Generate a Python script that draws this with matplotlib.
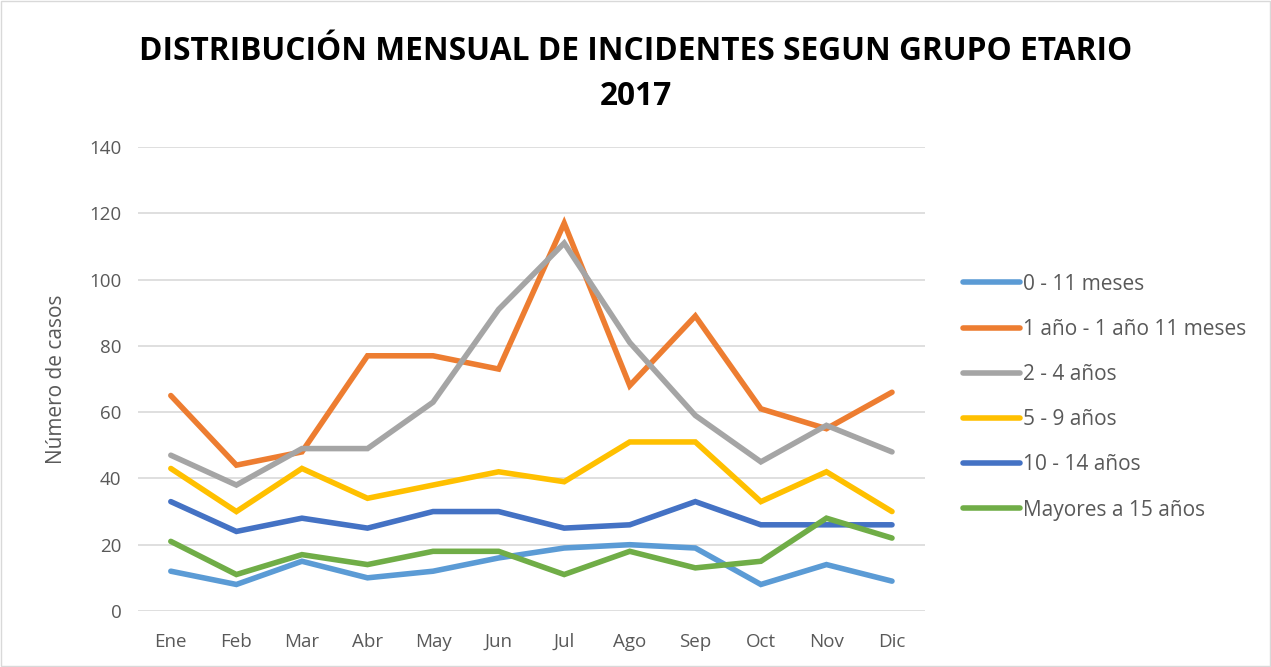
import matplotlib.pyplot as plt

meses = ["Ene", "Feb", "Mar", "Abr", "May", "Jun", "Jul", "Ago", "Sep", "Oct", "Nov", "Dic"]

g_0_11m = [12, 8, 15, 10, 12, 16, 19, 20, 19, 8, 14, 9]
g_1a = [65, 44, 48, 77, 77, 73, 117, 68, 89, 61, 55, 66]
g_2_4 = [47, 38, 49, 49, 63, 91, 111, 81, 59, 45, 56, 48]
g_5_9 = [43, 30, 43, 34, 38, 42, 39, 51, 51, 33, 42, 30]
g_10_14 = [33, 24, 28, 25, 30, 30, 25, 26, 33, 26, 26, 26]
g_15 = [21, 11, 17, 14, 18, 18, 11, 18, 13, 15, 28, 22]

nombres = ["0 - 11 meses", "1 año - 1 año 11 meses", "2 - 4 años",
           "5 - 9 años", "10 - 14 años", "Mayores a 15 años"]
colores = ["#5b9bd5", "#ed7d31", "#a5a5a5", "#ffc000", "#4472c4", "#70ad47"]
series = [g_0_11m, g_1a, g_2_4, g_5_9, g_10_14, g_15]

plt.rcParams['font.family'] = ['Open Sans', 'DejaVu Sans']

fig = plt.figure(figsize=(12.71, 6.67), dpi=100)
ax = fig.add_axes([0.1086, 0.084, 0.619, 0.6956])

x = range(len(meses))
for vals, nom, col in zip(series, nombres, colores):
    ax.plot(x, vals, color=col, lw=4, label=nom, solid_capstyle='round', solid_joinstyle='miter')

ax.set_xlim(-0.5, 11.5)
ax.set_ylim(0, 140)
ax.set_yticks(range(0, 141, 20))
ax.set_xticks(list(x))
ax.set_xticklabels(meses)
ax.grid(axis='y', color='#d9d9d9', lw=1.2)
ax.set_axisbelow(True)
for s in ax.spines.values():
    s.set_visible(False)
ax.tick_params(length=0, labelsize=13.5, colors='#595959')
ax.tick_params(axis='x', pad=16)
ax.tick_params(axis='y', pad=12)
ax.set_ylabel("Número de casos", fontsize=15, color='#595959', labelpad=16)

fig.suptitle("DISTRIBUCIÓN MENSUAL DE INCIDENTES SEGUN GRUPO ETARIO\n2017",
             fontsize=22.8, fontweight='bold', y=0.948, linespacing=1.5)

ax.legend(loc='center left', bbox_to_anchor=(1.025, 0.461), frameon=False,
          fontsize=15, labelcolor='#595959', handlelength=2.75, handletextpad=0.12,
          labelspacing=1.16)

fig.patches.append(plt.Rectangle((0.001, 0.001), 0.998, 0.998, transform=fig.transFigure,
                                 fill=False, edgecolor='#d9d9d9', lw=1))

fig.savefig("out.png", dpi=100)
